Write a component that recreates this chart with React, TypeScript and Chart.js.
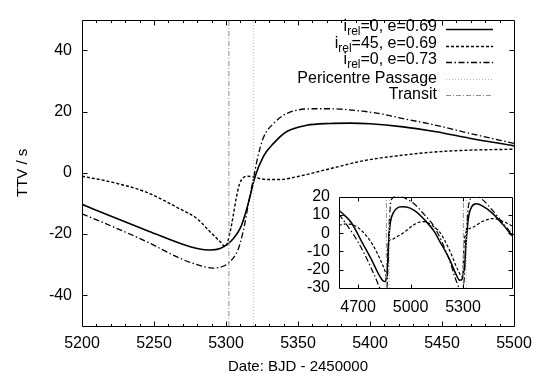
import React, { useEffect, useRef } from "react";
import { Chart, registerables } from "chart.js";
Chart.register(...registerables);

const FONT = '"Liberation Sans", Arial, Helvetica, sans-serif';

// ---- Main panel data ----
const mainXTicks = [5200, 5250, 5300, 5350, 5400, 5450, 5500];
const mainYTicks = [-40, -20, 0, 20, 40];

const mainSolid: [number, number][] = [
  [5200, -10.3], [5222, -14.5], [5245, -18.8], [5268, -23.0], [5280, -24.7], [5289, -25.2],
  [5296, -24.7], [5301, -23.3], [5305, -21.5], [5310, -18], [5313, -14], [5316, -9], [5320, -1.5],
  [5326, 5.4], [5333, 9.6], [5342, 13.4], [5356, 15.5], [5372, 16.1], [5386, 16.2], [5400, 16.0],
  [5423, 15.0], [5446, 13.4], [5469, 11.3], [5500, 8.8],
];

const mainDashed: [number, number][] = [
  [5200, -1.1], [5222, -3.2], [5245, -6.4], [5268, -11.8], [5280, -15.0], [5289, -19.3],
  [5296, -22.5], [5299.5, -24.1], [5303, -19], [5305, -14], [5307, -8.5], [5309.5, -3.5],
  [5312, -1.6], [5315, -1.1], [5321, -1.6], [5328, -2.2], [5337, -2.2], [5350, -1.2],
  [5372, 1.3], [5395, 3.9], [5420, 5.6], [5445, 6.8], [5470, 7.4], [5500, 7.7],
];

const mainDashDot: [number, number][] = [
  [5200, -13.4], [5222, -17.7], [5245, -22.5], [5268, -27.9], [5280, -30.0], [5291, -31.1],
  [5298, -30.5], [5303, -28.9], [5308, -25.5], [5312, -19], [5316, -9], [5319, -2], [5322, 5],
  [5326, 11.5], [5333, 16.1], [5342, 19.3], [5360, 20.9], [5372, 20.9], [5395, 20.1], [5407, 19.3],
  [5423, 17.7], [5446, 15.5], [5469, 12.9], [5500, 9.6],
];

const transitDates = [4862, 5302];
const pericentreDates = [4879, 5319];

// ---- Inset data ----
const insetXTicks = [4700, 5000, 5300];
const insetYTicks = [-30, -20, -10, 0, 10, 20];

const insetSolid: [number, number][] = [
  [4590, 12.5], [4620, 10], [4662, 5.7], [4719, -4.3], [4776, -14.3], [4814, -21.8], [4842, -26],
  [4855, -26.5], [4862, -24], [4870, -16], [4876, -3], [4885, 6], [4899, 10.7], [4920, 13.5],
  [4950, 14.4], [4976, 14.3], [5023, 12.3], [5080, 7.3], [5137, 0.7], [5166, -4.3], [5223, -14.3],
  [5261, -22.7], [5280, -25.7], [5293, -25.5], [5302, -22], [5310, -17], [5316, -8], [5322, 0],
  [5333, 9.6], [5350, 14.5], [5375, 16.1], [5413, 14.8], [5470, 10.7], [5527, 4.8], [5580, -1.5],
];

const insetDashed: [number, number][] = [
  [4590, 4.3], [4630, 5], [4662, 4.8], [4719, 1.5], [4776, -5.2], [4814, -11.8], [4852, -20.2],
  [4866, -24.3], [4870, -10], [4874, -4.3], [4890, -3.5], [4909, -2.7], [4966, 0.7], [5023, 4.8],
  [5068, 6.3], [5099, 5.7], [5137, 3.2], [5166, 0.7], [5223, -9.3], [5270, -20], [5298, -24],
  [5304, -10], [5310, -2], [5356, 3.2], [5413, 6.5], [5470, 8], [5527, 6.5], [5580, 4],
];

const insetDashDot: [number, number][] = [
  [4590, 10.5], [4680, -1.7], [4738, -11.7], [4795, -23.3], [4833, -31.5], [4862, -33], [4870, -20],
  [4876, 0], [4882, 12], [4890, 18.3], [4918, 20.3], [4947, 20], [5023, 15.8], [5080, 10],
  [5137, 3.3], [5223, -15], [5261, -26], [5292, -32], [5304, -28], [5310, -20], [5316, -3],
  [5322, 5], [5330, 14], [5345, 19.5], [5366, 21], [5413, 18.2], [5470, 12.3], [5527, 5.7],
  [5580, -0.5],
];

// ---- Legend ----
const legendMain = ["i", "i", "i", "Pericentre Passage", "Transit"];
const legendSub = ["rel", "rel", "rel", "", ""];
const legendRest = ["=0, e=0.69", "=45, e=0.69", "=0, e=0.73", "", ""];

const xTitle = "Date: BJD - 2450000";
const yTitle = "TTV / s";

const STYLES = {
  solid: { color: "#000", dash: [] as number[], width: 1.6 },
  dashed: { color: "#000", dash: [3, 2], width: 1.4 },
  dashdot: { color: "#000", dash: [6, 2.5, 1.5, 2.5], width: 1.3 },
  peri: { color: "#b8b8b8", dash: [1, 2], width: 1 },
  transit: { color: "#909090", dash: [5, 2, 1, 2], width: 1 },
};
const legendStyles = [STYLES.solid, STYLES.dashed, STYLES.dashdot, STYLES.peri, STYLES.transit];

const pts = (a: [number, number][]) => a.map(([x, y]) => ({ x, y }));

function lineDs(data: any[], st: any, extra: any = {}) {
  return {
    data,
    borderColor: st.color,
    borderDash: st.dash,
    borderWidth: st.width,
    pointRadius: 0,
    fill: false,
    tension: 0,
    cubicInterpolationMode: "monotone",
    clip: 0,
    ...extra,
  };
}

function vlines(dates: number[], yMin: number, yMax: number, st: any) {
  return dates.map((d) => lineDs([{ x: d, y: yMin }, { x: d, y: yMax }], { ...st }, { cubicInterpolationMode: "default" }));
}

function framePlugin(opts: { xMajor: number[]; xMinor: number[]; yMajor: number[]; major: number; minor: number }) {
  return {
    id: "frameTicks",
    afterDatasetsDraw(chart: any) {
      const { ctx, chartArea: a, scales } = chart;
      const xs = scales.x, ys = scales.y;
      const L = Math.round(a.left) + 0.5, R = Math.round(a.right) + 0.5;
      const T = Math.round(a.top) + 0.5, B = Math.round(a.bottom) + 0.5;
      ctx.save();
      ctx.strokeStyle = "#000";
      ctx.lineWidth = 1;
      ctx.setLineDash([]);
      ctx.beginPath();
      ctx.rect(L, T, R - L, B - T);
      const tx = (v: number, len: number) => {
        const p = Math.round(xs.getPixelForValue(v)) + 0.5;
        if (p <= L + 1 || p >= R - 1) return;
        ctx.moveTo(p, B); ctx.lineTo(p, B - len);
        ctx.moveTo(p, T); ctx.lineTo(p, T + len);
      };
      const ty = (v: number, len: number) => {
        const p = Math.round(ys.getPixelForValue(v)) + 0.5;
        if (p <= T + 1 || p >= B - 1) return;
        ctx.moveTo(L, p); ctx.lineTo(L + len, p);
        ctx.moveTo(R, p); ctx.lineTo(R - len, p);
      };
      opts.xMinor.forEach((v) => tx(v, opts.minor));
      opts.xMajor.forEach((v) => tx(v, opts.major));
      opts.yMajor.forEach((v) => ty(v, opts.major));
      ctx.stroke();
      ctx.restore();
    },
  };
}

const legendTitlePlugin = {
  id: "legendTitles",
  afterDraw(chart: any) {
    const { ctx, chartArea: a } = chart;
    ctx.save();
    ctx.fillStyle = "#000";
    // axis titles
    ctx.font = `15px ${FONT}`;
    ctx.textAlign = "center";
    ctx.textBaseline = "middle";
    ctx.fillText(xTitle, (a.left + a.right) / 2, 367);
    ctx.save();
    ctx.translate(23, (a.top + a.bottom) / 2);
    ctx.rotate(-Math.PI / 2);
    ctx.fillText(yTitle, 0, 0);
    ctx.restore();
    // legend
    const textRight = 437;
    const sampleL = 446, sampleR = 493;
    const sampleY = [29, 46, 62, 79, 95];
    const mainFont = `16px ${FONT}`;
    const subFont = `12px ${FONT}`;
    ctx.textAlign = "left";
    for (let i = 0; i < legendMain.length; i++) {
      const sy = sampleY[i];
      const hasSub = legendSub[i] !== "";
      const ty = hasSub ? sy - 2 : sy;
      ctx.font = mainFont;
      const w1 = ctx.measureText(legendMain[i]).width;
      const w3 = ctx.measureText(legendRest[i]).width;
      ctx.font = subFont;
      const w2 = hasSub ? ctx.measureText(legendSub[i]).width : 0;
      let x = textRight - (w1 + w2 + w3);
      ctx.font = mainFont;
      ctx.fillText(legendMain[i], x, ty);
      x += w1;
      if (hasSub) {
        ctx.font = subFont;
        ctx.fillText(legendSub[i], x, ty + 5);
        x += w2;
        ctx.font = mainFont;
        ctx.fillText(legendRest[i], x, ty);
      }
      const st = legendStyles[i];
      ctx.strokeStyle = st.color;
      ctx.lineWidth = st.width;
      ctx.setLineDash(st.dash);
      ctx.beginPath();
      ctx.moveTo(sampleL, sy + 0.5);
      ctx.lineTo(sampleR, sy + 0.5);
      ctx.stroke();
    }
    ctx.restore();
  },
};

function range(a: number, b: number, s: number) {
  const r: number[] = [];
  for (let v = a; v <= b + 1e-9; v += s) r.push(v);
  return r;
}

export default function App() {
  const mainRef = useRef<HTMLCanvasElement>(null);
  const insetRef = useRef<HTMLCanvasElement>(null);

  useEffect(() => {
    const tickFont = { family: FONT, size: 16 };
    const main = new Chart(mainRef.current!, {
      type: "line",
      data: {
        datasets: [
          ...vlines([pericentreDates[1]], -50, 50, STYLES.peri),
          ...vlines([transitDates[1]], -50, 50, STYLES.transit),
          lineDs(pts(mainDashDot), STYLES.dashdot),
          lineDs(pts(mainDashed), STYLES.dashed),
          lineDs(pts(mainSolid), STYLES.solid),
        ] as any,
      },
      options: {
        responsive: false,
        animation: false,
        devicePixelRatio: 1,
        layout: { padding: { left: 0, top: 16, right: 28, bottom: 0 } },
        plugins: { legend: { display: false }, tooltip: { enabled: false } },
        scales: {
          x: {
            type: "linear",
            min: 5200,
            max: 5500,
            grid: { display: false, drawTicks: false },
            border: { display: false },
            afterBuildTicks: (s: any) => { s.ticks = mainXTicks.map((v) => ({ value: v })); },
            afterFit: (s: any) => { s.height = 56; },
            ticks: { font: tickFont, color: "#000", padding: 8, autoSkip: false, maxRotation: 0, callback: (v: any) => String(v) },
          },
          y: {
            type: "linear",
            min: -50,
            max: 50,
            grid: { display: false, drawTicks: false },
            border: { display: false },
            afterBuildTicks: (s: any) => { s.ticks = mainYTicks.map((v) => ({ value: v })); },
            afterFit: (s: any) => { s.width = 82; },
            ticks: { font: tickFont, color: "#000", padding: 10, autoSkip: false, callback: (v: any) => String(v) },
          },
        },
      } as any,
      plugins: [
        framePlugin({ xMajor: mainXTicks, xMinor: range(5200, 5500, 10), yMajor: mainYTicks, major: 5, minor: 2.5 }),
        legendTitlePlugin,
      ],
    });

    const inset = new Chart(insetRef.current!, {
      type: "line",
      data: {
        datasets: [
          ...vlines(pericentreDates, -30, 20, STYLES.peri),
          ...vlines(transitDates, -30, 20, STYLES.transit),
          lineDs(pts(insetDashDot), { ...STYLES.dashdot, width: 1.2 }),
          lineDs(pts(insetDashed), { ...STYLES.dashed, width: 1.2 }),
          lineDs(pts(insetSolid), { ...STYLES.solid, width: 1.5 }),
        ] as any,
      },
      options: {
        responsive: false,
        animation: false,
        devicePixelRatio: 1,
        layout: { padding: { left: 0, top: 10, right: 20, bottom: 0 } },
        plugins: { legend: { display: false }, tooltip: { enabled: false } },
        scales: {
          x: {
            type: "linear",
            min: 4591,
            max: 5580,
            grid: { display: false, drawTicks: false },
            border: { display: false },
            afterBuildTicks: (s: any) => { s.ticks = insetXTicks.map((v) => ({ value: v })); },
            afterFit: (s: any) => { s.height = 30; },
            ticks: { font: tickFont, color: "#000", padding: 10, autoSkip: false, maxRotation: 0, callback: (v: any) => String(v) },
          },
          y: {
            type: "linear",
            min: -30,
            max: 20,
            grid: { display: false, drawTicks: false },
            border: { display: false },
            afterBuildTicks: (s: any) => { s.ticks = insetYTicks.map((v) => ({ value: v })); },
            afterFit: (s: any) => { s.width = 39; },
            ticks: { font: tickFont, color: "#000", padding: 9, autoSkip: false, callback: (v: any) => String(v) },
          },
        },
      } as any,
      plugins: [framePlugin({ xMajor: insetXTicks, xMinor: [], yMajor: insetYTicks, major: 4, minor: 2 })],
    });

    return () => {
      main.destroy();
      inset.destroy();
    };
  }, []);

  return (
    <div style={{ position: "absolute", left: 0, top: 0, width: 542, height: 382, background: "#fff" }}>
      <canvas ref={mainRef} width={542} height={382} style={{ position: "absolute", left: 0, top: 0, width: 542, height: 382 }} />
      <canvas ref={insetRef} width={232} height={140} style={{ position: "absolute", left: 300, top: 178, width: 232, height: 140 }} />
    </div>
  );
}
